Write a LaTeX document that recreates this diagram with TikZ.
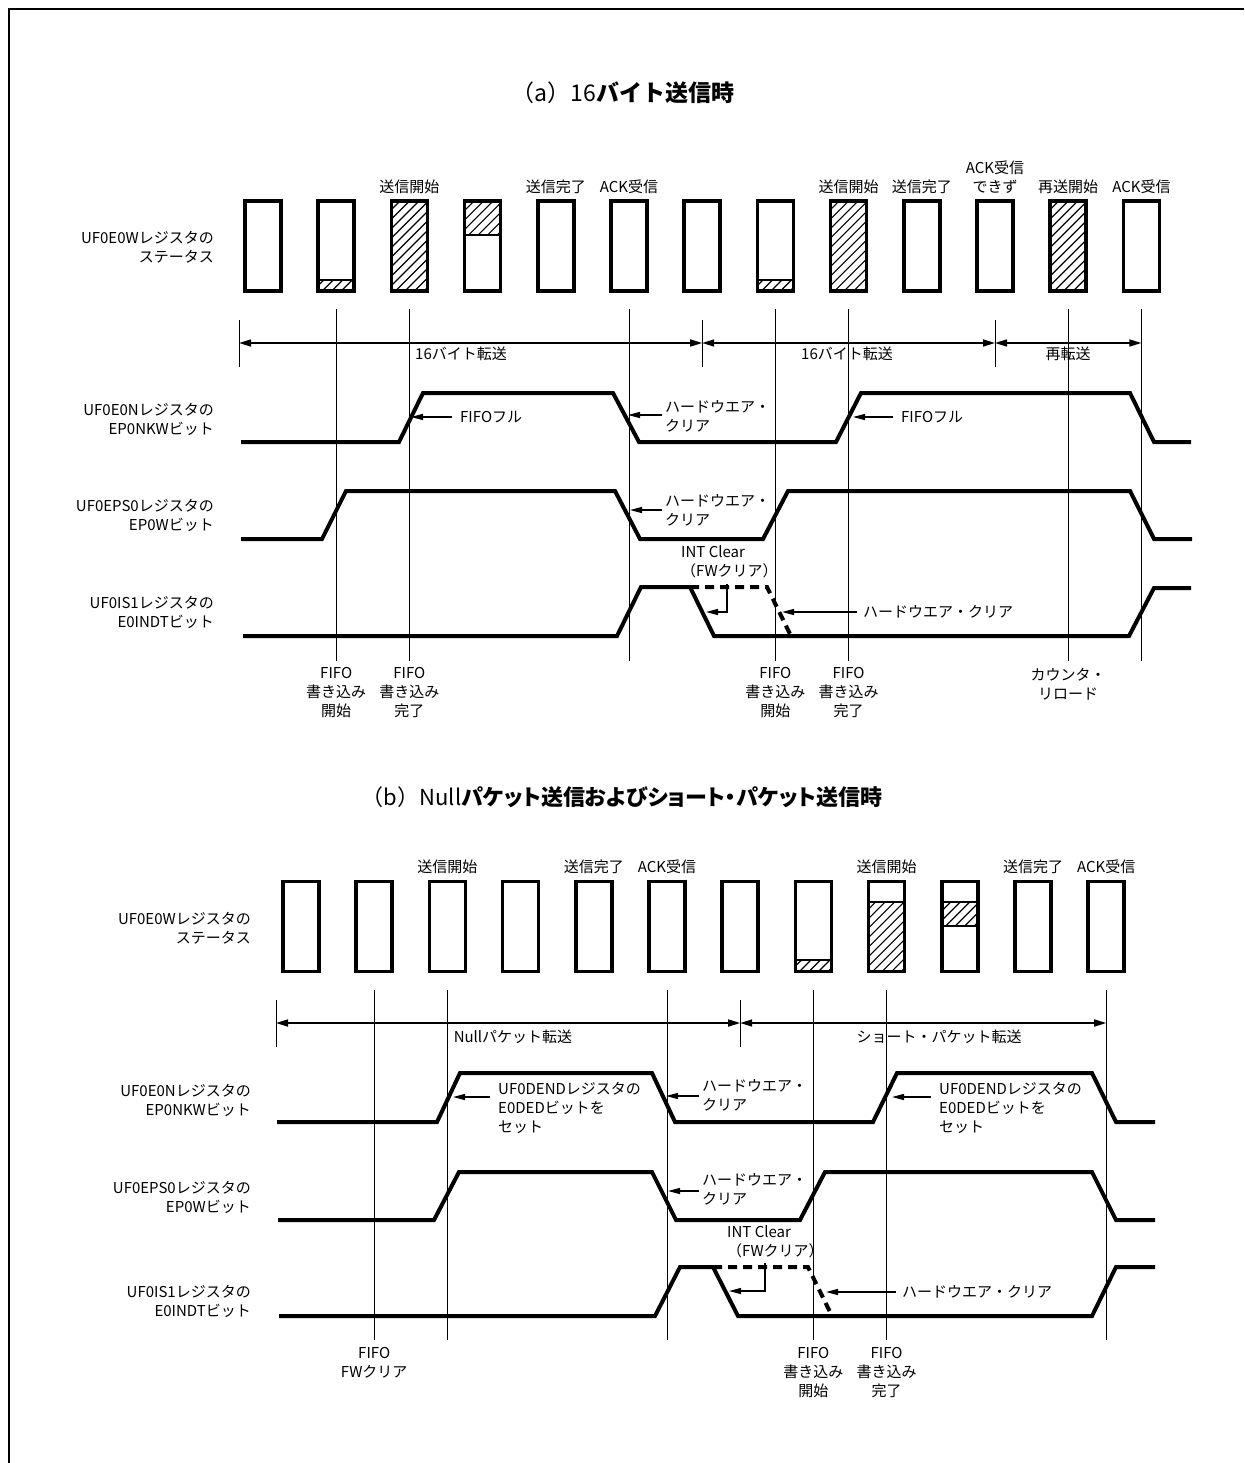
\documentclass[tikz,border=0pt]{standalone}
\usepackage{fontspec}
\setmainfont{Noto Sans CJK JP}
\newfontfamily\jpprop{Noto Sans CJK JP}[RawFeature=+palt]
\usetikzlibrary{arrows.meta}
\newcommand\myhatch[3]{%
  \begin{scope}
    \clip (#1-18,#2) rectangle (#1+18,#3);
    \foreach \k in {-110,-100.5,...,40} \draw[hatchline] (#1-18+\k,#3) -- ++(140,-140);
  \end{scope}}
\newcommand\mysep[2]{\draw[sepline] (#1-18,#2) -- (#1+18,#2);}
\tikzset{
  txt/.style={inner sep=0pt, font=\fontsize{15}{19}\selectfont},
  rowlbl/.style={txt, align=right, anchor=east},
  ctr/.style={txt, align=center},
  lft/.style={txt, align=left, anchor=west},
  ttl/.style={inner sep=0pt, font=\fontsize{22}{26}\selectfont},
  wave/.style={line width=4pt},
  dashwave/.style={line width=4pt, dash pattern=on 9pt off 6pt},
  vline/.style={line width=1pt},
  regbox/.style={draw, line width=3.5pt, minimum width=36pt, minimum height=90pt, inner sep=0pt, outer sep=0pt},
  hatchline/.style={line width=1.2pt},
  sepline/.style={line width=2pt},
  dimline/.style={line width=1.6pt, {Triangle[length=12pt,width=7pt]}-{Triangle[length=12pt,width=7pt]}},
  arr/.style={line width=1.4pt, -{Triangle[length=12pt,width=6pt]}},
  frame/.style={line width=2pt},
}
\begin{document}
\begin{tikzpicture}[x=1pt,y=-1pt]
\useasboundingbox (0,0) rectangle (1244,1463);
\draw[frame] (9,1463) -- (9,9) -- (1244,9);

% ================= (a) =================
\node[ttl, font=\fontsize{23}{27}\selectfont] (titleA) at (623,93) {（a）16{\bfseries バイト送信時}};

\foreach \i in {1,...,13} {
  \pgfmathsetmacro\cx{263+73.2*(\i-1)}
  \node[regbox] (a\i) at (\cx,246) {};
}
% hatching (a)
\myhatch{336.2}{280}{291} \mysep{336.2}{280}
\myhatch{409.4}{201}{291}
\myhatch{482.6}{201}{235} \mysep{482.6}{235}
\myhatch{775.4}{280}{291} \mysep{775.4}{280}
\myhatch{848.6}{201}{291}
\myhatch{1068.2}{201}{291}

% labels above boxes (a)
\node[ctr] (sa3) at (a3 |- 0,187) {送信開始};
\node[ctr] (sa5) at (a5 |- 0,187) {送信完了};
\node[ctr] (sa6) at (a6 |- 0,187) {ACK受信};
\node[ctr] (sa9) at (a9 |- 0,187) {送信開始};
\node[ctr] (sa10) at (a10 |- 0,187) {送信完了};
\node[ctr] (sa11) at (a11 |- 0,177) {ACK受信\\できず};
\node[ctr] (sa12) at (a12 |- 0,187) {再送開始};
\node[ctr] (sa13) at (a13 |- 0,187) {ACK受信};

% row labels (a)
\node[rowlbl] (la1) at (214,247) {UF0E0Wレジスタの\\ステータス};
\node[rowlbl] (la2) at (214,419) {UF0E0Nレジスタの\\EP0NKWビット};
\node[rowlbl] (la3) at (214,515) {UF0EPS0レジスタの\\EP0Wビット};
\node[rowlbl] (la4) at (214,612) {UF0IS1レジスタの\\E0INDTビット};

% vertical time lines (a)
\foreach \b in {a2,a3,a6,a8,a9,a12,a13}
  \draw[vline] (\b |- 0,309) -- (\b |- 0,661);

% dimension lines (a)
\coordinate (dA0) at (239,343);
\coordinate (dA1) at (a7 |- 0,343);
\coordinate (dA2) at (a11 |- 0,343);
\coordinate (dA3) at (a13 |- 0,343);
\draw[vline] (239,320) -- (239,367);
\draw[vline] (a7 |- 0,320) -- (a7 |- 0,367);
\draw[vline] (a11 |- 0,320) -- (a11 |- 0,367);
\draw[dimline] (dA0) -- (dA1);
\draw[dimline] (dA1) -- (dA2);
\draw[dimline] (dA2) -- (dA3);
\node[ctr] (ta1) at (461,354) {16バイト転送};
\node[ctr] (ta2) at (847,354) {16バイト転送};
\node[ctr] (ta3) at (1068,354) {再転送};

% waveforms (a)
\draw[wave] (241,442) -- (399,442) -- (423,393) -- (613,393) -- (639,442) -- (836,442) -- (861,393) -- (1130,393) -- (1154,442) -- (1191,442);
\draw[wave] (241,539) -- (322,539) -- (346,491) -- (615,491) -- (640,539) -- (763,539) -- (788,491) -- (1130,491) -- (1154,539) -- (1192,539);
\draw[wave] (243,636) -- (617,636) -- (641,587) -- (690,587) -- (714,636) -- (1129,636) -- (1154,588) -- (1191,588);
\draw[dashwave] (690,587) -- (767,587) -- (791,636);

% annotations (a)
\node[lft] (nA1) at (460,417) {FIFOフル};
\coordinate (eA1) at (411,417);
\draw[arr] ([xshift=-8pt]nA1.west) -- (eA1);
\node[lft] (nA2) at (665,416.5) {ハードウエア・\\クリア};
\coordinate (eA2) at (628,415);
\draw[arr] (662,415) -- (eA2);
\node[lft] (nA3) at (665,510) {ハードウエア・\\クリア};
\coordinate (eA3) at (630,510);
\draw[arr] (662,510) -- (eA3);
\node[lft] (nA4) at (901,417) {FIFOフル};
\coordinate (eA4) at (853,417);
\draw[arr] ([xshift=-8pt]nA4.west) -- (eA4);
\node[lft] (nA5) at (681,561.5) {INT Clear\\（FWクリア）};
\coordinate (eA5) at (706,612);
\draw[arr] (727,584) -- (727,612) -- (eA5);
\node[lft] (nA6) at (863,612) {ハードウエア・クリア};
\coordinate (eA6) at (782,612);
\draw[arr] ([xshift=-6pt]nA6.west) -- (eA6);

% bottom labels (a)
\node[ctr] (ba2) at (a2 |- 0,692.5) {FIFO\\書き込み\\開始};
\node[ctr] (ba3) at (a3 |- 0,692.5) {FIFO\\書き込み\\完了};
\node[ctr] (ba8) at (a8 |- 0,692.5) {FIFO\\書き込み\\開始};
\node[ctr] (ba9) at (a9 |- 0,692.5) {FIFO\\書き込み\\完了};
\node[ctr] (ba12) at (a12 |- 0,684) {カウンタ・\\リロード};

% ================= (b) =================
\node[ttl] (titleB) at (622,797) {（b）{\jpprop Null{\bfseries パケット送信およびショート・パケット送信時}}};

\foreach \i in {1,...,12} {
  \pgfmathsetmacro\cx{301+73.2*(\i-1)}
  \node[regbox] (b\i) at (\cx,926.5) {};
}
\myhatch{813.4}{960}{971.5} \mysep{813.4}{960}
\myhatch{886.6}{902}{971.5} \mysep{886.6}{902}
\myhatch{959.8}{902}{926} \mysep{959.8}{902} \mysep{959.8}{926}

\node[ctr] (sb3) at (b3 |- 0,867) {送信開始};
\node[ctr] (sb5) at (b5 |- 0,867) {送信完了};
\node[ctr] (sb6) at (b6 |- 0,867) {ACK受信};
\node[ctr] (sb9) at (b9 |- 0,867) {送信開始};
\node[ctr] (sb11) at (b11 |- 0,867) {送信完了};
\node[ctr] (sb12) at (b12 |- 0,867) {ACK受信};

\node[rowlbl] (lb1) at (251,928) {UF0E0Wレジスタの\\ステータス};
\node[rowlbl] (lb2) at (251,1100) {UF0E0Nレジスタの\\EP0NKWビット};
\node[rowlbl] (lb3) at (251,1197) {UF0EPS0レジスタの\\EP0Wビット};
\node[rowlbl] (lb4) at (251,1301) {UF0IS1レジスタの\\E0INDTビット};

\foreach \b in {b2,b3,b6,b8,b9,b12}
  \draw[vline] (\b |- 0,990) -- (\b |- 0,1340);

\coordinate (dB0) at (276,1023);
\coordinate (dB1) at (b7 |- 0,1023);
\coordinate (dB2) at (b12 |- 0,1023);
\draw[vline] (276,1000) -- (276,1047);
\draw[vline] (b7 |- 0,1000) -- (b7 |- 0,1047);
\draw[dimline] (dB0) -- (dB1);
\draw[dimline] (dB1) -- (dB2);
\node[ctr] (tb1) at (513,1037) {Nullパケット転送};
\node[ctr] (tb2) at (939,1037) {ショート・パケット転送};

\draw[wave] (277,1122) -- (437,1122) -- (460,1073) -- (652,1073) -- (675,1122) -- (873,1122) -- (897,1073) -- (1092,1073) -- (1116,1122) -- (1155,1122);
\draw[wave] (278,1220) -- (434,1220) -- (459,1172) -- (652,1172) -- (676,1220) -- (800,1220) -- (825,1172) -- (1092,1172) -- (1116,1220) -- (1155,1220);
\draw[wave] (279,1316) -- (655,1316) -- (680,1267) -- (713,1267) -- (738,1316) -- (1092,1316) -- (1116,1267) -- (1155,1267);
\draw[dashwave] (713,1267) -- (808,1267) -- (832,1316);

\node[lft] (nB1) at (498,1108) {UF0DENDレジスタの\\E0DEDビットを\\セット};
\coordinate (eB1) at (453,1097);
\draw[arr] (490,1097) -- (eB1);
\node[lft] (nB2) at (939,1108) {UF0DENDレジスタの\\E0DEDビットを\\セット};
\coordinate (eB2) at (892,1097);
\draw[arr] (931,1097) -- (eB2);
\node[lft] (nB3) at (702,1095.5) {ハードウエア・\\クリア};
\coordinate (eB3) at (666,1096);
\draw[arr] (699,1096) -- (eB3);
\node[lft] (nB4) at (702,1189) {ハードウエア・\\クリア};
\coordinate (eB4) at (668,1191);
\draw[arr] (699,1191) -- (eB4);
\node[lft] (nB5) at (727,1242) {INT Clear\\（FWクリア）};
\coordinate (eB5) at (729,1291);
\draw[arr] (765,1263) -- (765,1291) -- (eB5);
\node[lft] (nB6) at (902,1292) {ハードウエア・クリア};
\coordinate (eB6) at (826,1292);
\draw[arr] ([xshift=-6pt]nB6.west) -- (eB6);

\node[ctr] (bb2) at (b2 |- 0,1363) {FIFO\\FWクリア};
\node[ctr] (bb8) at (b8 |- 0,1373) {FIFO\\書き込み\\開始};
\node[ctr] (bb9) at (b9 |- 0,1373) {FIFO\\書き込み\\完了};
\end{tikzpicture}
\end{document}
